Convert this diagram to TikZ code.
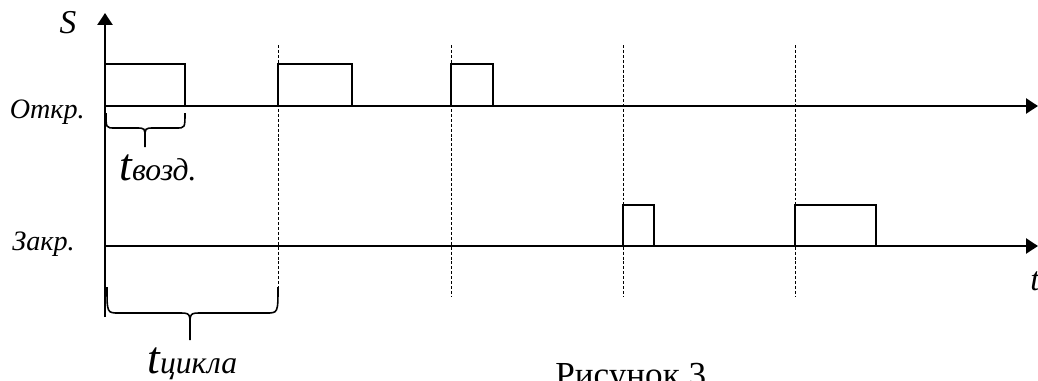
\documentclass[tikz,border=0pt]{standalone}
\usepackage{fontspec}
\setmainfont{Liberation Serif}
\usetikzlibrary{arrows.meta}
\begin{document}
\begin{tikzpicture}[x=0.02cm, y=-0.02cm,
    axis/.style={line width=1.4pt, -{Triangle[length=6.8pt, width=8.5pt]}},
    pulse/.style={line width=1pt},
    guide/.style={line width=0.45pt, dash pattern=on 1.7pt off 1.1pt},
    brace/.style={line width=0.9pt},
    lbl/.style={font=\itshape\fontsize{16}{18}\selectfont, inner sep=0pt},
    bigt/.style={inner sep=0pt, anchor=base west}]
    \useasboundingbox (0,0) rectangle (1038,380);

    % Axis points
    \coordinate (origin) at (105,317);
    \coordinate (Send) at (105,13);
    \coordinate (openL) at (105,106);
    \coordinate (openR) at (1038,106);
    \coordinate (closeL) at (105,246);
    \coordinate (closeR) at (1038,246);

    % Cycle guides
    \draw[guide] (278,45) -- (278,297);
    \draw[guide] (451,45) -- (451,297);
    \draw[guide] (623,45) -- (623,297);
    \draw[guide] (795,45) -- (795,297);

    % Draw Axes
    \draw[axis] (origin) -- (Send);
    \draw[axis] (openL) -- (openR);
    \draw[axis] (closeL) -- (closeR);

    % Pulses, open
    \draw[pulse] (105,64) -- (185,64) -- (185,106);
    \draw[pulse] (278,106) -- (278,64) -- (352,64) -- (352,106);
    \draw[pulse] (451,106) -- (451,64) -- (493,64) -- (493,106);

    % Pulses, close
    \draw[pulse] (623,246) -- (623,205) -- (654,205) -- (654,246);
    \draw[pulse] (795,246) -- (795,205) -- (876,205) -- (876,246);

    % Brace t_vozd
    \draw[brace] (106,113) .. controls (106,128) .. (115,128) -- (136,128)
      .. controls (145,128) .. (145,138) -- (145,147);
    \draw[brace] (185,113) .. controls (185,128) .. (176,128) -- (154,128)
      .. controls (145,128) .. (145,138);

    % Brace t_cycle
    \draw[brace] (107,287) .. controls (107,313) .. (119,313) -- (178,313)
      .. controls (190,313) .. (190,326) -- (190,340);
    \draw[brace] (278,287) .. controls (278,313) .. (266,313) -- (202,313)
      .. controls (190,313) .. (190,326);

    % Text labels
    \node[lbl, anchor=base] (Slbl) at (68,33) {\fontsize{19}{20}\selectfont S};
    \node[lbl, anchor=base east] (openlbl) at (85,118) {Откр.};
    \node[lbl, anchor=base east] (closelbl) at (75,250) {Закр.};
    \node[bigt] (tvozd) at (119,180)
      {\itshape\fontsize{26}{28}\selectfont t\fontsize{18}{20}\selectfont возд.};
    \node[bigt] (tcycle) at (147,373)
      {\itshape\fontsize{26}{28}\selectfont t\fontsize{18}{20}\selectfont цикла};
    \node[lbl, anchor=base west] (tlbl) at (1030,290) {\fontsize{19}{20}\selectfont t};
    \node[inner sep=0pt, anchor=base west] (fig) at (555,386)
      {\fontsize{20}{22}\selectfont Рисунок 3};
  \end{tikzpicture}
\end{document}
